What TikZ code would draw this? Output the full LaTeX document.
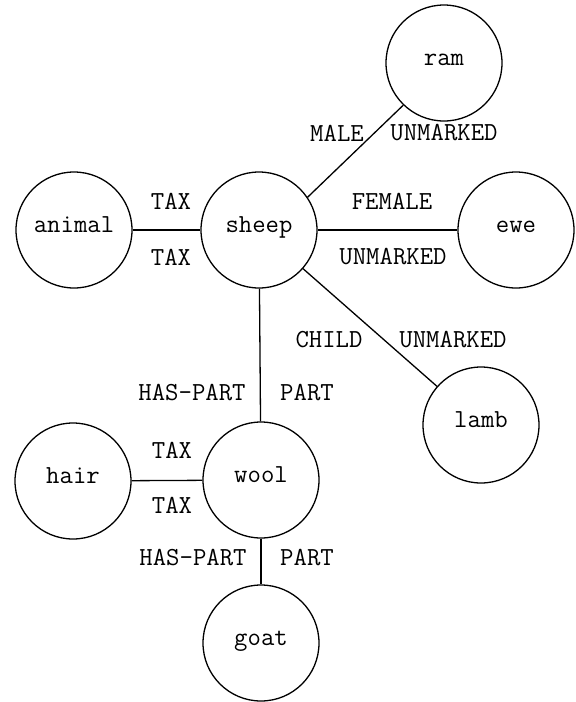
\documentclass[tikz,border=0pt]{standalone}
\begin{document}
\begin{tikzpicture}[x=1pt,y=-1pt,
  concept/.style={draw,circle,line width=1.3pt,minimum size=116pt,inner sep=0pt,
    font=\ttfamily\fontsize{26}{26}\selectfont,text height=1ex,text depth=0pt},
  rel/.style={font=\ttfamily\fontsize{26}{26}\selectfont,inner sep=0pt},
  link/.style={line width=1.3pt}]
\useasboundingbox (0,0) rectangle (576,702);
\node[concept] (ram) at (444,63) {ram};
\node[concept] (animal) at (74,230) {animal};
\node[concept] (sheep) at (259,230) {sheep};
\node[concept] (ewe) at (516,230) {ewe};
\node[concept] (lamb) at (481,425) {lamb};
\node[concept] (hair) at (73,481) {hair};
\node[concept] (wool) at (261,480) {wool};
\node[concept] (goat) at (261,643) {goat};
\draw[link] (animal) -- (sheep);
\draw[link] (sheep) -- (ewe);
\draw[link] (sheep.34) -- (ram.226);
\draw[link] (sheep) -- (lamb);
\draw[link] (wool) -- (sheep);
\draw[link] (hair) -- (wool);
\draw[link] (wool) -- (goat);
\node[rel] (l1) at (171,201) {TAX};
\node[rel] (l2) at (171,257) {TAX};
\node[rel] (l3) at (337,133) {MALE};
\node[rel] (l4) at (444,133) {UNMARKED};
\node[rel] (l5) at (392,201) {FEMALE};
\node[rel] (l6) at (393,257) {UNMARKED};
\node[rel] (l7) at (329,340) {CHILD};
\node[rel] (l8) at (453,340) {UNMARKED};
\node[rel] (l9) at (192,393) {HAS-PART};
\node[rel] (l10) at (307,393) {PART};
\node[rel] (l11) at (172,450) {TAX};
\node[rel] (l12) at (172,505) {TAX};
\node[rel] (l13) at (193,558) {HAS-PART};
\node[rel] (l14) at (307,558) {PART};
\end{tikzpicture}
\end{document}
